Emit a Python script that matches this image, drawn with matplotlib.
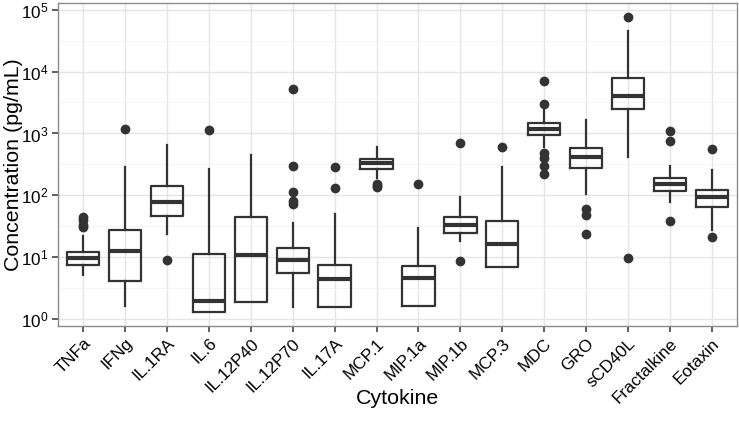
import matplotlib
matplotlib.use("Agg")
import matplotlib.pyplot as plt
import numpy as np

plt.rcParams['font.family'] = ['Liberation Sans', 'DejaVu Sans']
plt.rcParams['mathtext.fontset'] = 'custom'
plt.rcParams['mathtext.rm'] = 'Liberation Sans'
plt.rcParams['mathtext.it'] = 'Liberation Sans'

categories = ["TNFa", "IFNg", "IL.1RA", "IL.6", "IL.12P40", "IL.12P70", "IL.17A",
              "MCP.1", "MIP.1a", "MIP.1b", "MCP.3", "MDC", "GRO", "sCD40L",
              "Fractalkine", "Eotaxin"]
whisker_low = [5.2, 1.64, 23.5, 1.3, 1.92, 1.6, 1.6, 190, 1.66, 18.5, 7.05, 608, 104, 420, 79, 27.6]
q1          = [7.5, 4.2, 46, 1.3, 1.92, 5.5, 1.6, 263, 1.66, 24.4, 7.05, 937, 272, 2440, 119, 65.5]
median      = [9.9, 12.6, 79, 2.0, 10.9, 9.0, 4.4, 328, 4.6, 33, 16.2, 1200, 420, 4000, 152, 95]
q3          = [12.3, 27.6, 141, 11.3, 44.6, 14.3, 7.5, 385, 7.3, 44, 39, 1450, 573, 7980, 188, 122]
whisker_high = [22, 285, 647, 263, 457, 36, 50, 594, 30, 95, 290, 2440, 1640, 44600, 300, 256]
outliers = [
    [44, 40, 33, 31],
    [1200],
    [8.9],
    [1130],
    [],
    [5190, 300, 112, 82, 72],
    [290, 133],
    [155, 140, 135],
    [154],
    [705, 8.8],
    [600],
    [6960, 2960, 475, 395, 300, 221],
    [60, 48, 23.6],
    [74500, 9.6],
    [1090, 752, 39],
    [552, 21.5],
]

W, H = 739, 430
fig = plt.figure(figsize=(W / 100, H / 100), dpi=100)
ax = fig.add_axes([58 / W, 1 - 326 / H, (737 - 58) / W, (326 - 3) / H])

stats = []
for i, c in enumerate(categories):
    stats.append(dict(label=c, whislo=whisker_low[i], q1=q1[i], med=median[i],
                      q3=q3[i], whishi=whisker_high[i], fliers=outliers[i]))

dark = '#333333'
positions = np.arange(len(categories))
ax.bxp(stats, positions=positions, widths=0.77, showcaps=False,
       boxprops=dict(color=dark, linewidth=1.6),
       whiskerprops=dict(color=dark, linewidth=1.6),
       medianprops=dict(color=dark, linewidth=3.0, solid_capstyle='butt'),
       flierprops=dict(marker='o', markerfacecolor=dark, markeredgecolor=dark,
                       markersize=6, linestyle='none'),
       zorder=3)

ax.set_yscale('log')
ax.set_ylim(10 ** -0.108, 10 ** 5.106)
ax.set_xlim(-0.6, len(categories) - 1 + 0.6)

yt = [10 ** k for k in range(6)]
ax.set_yticks(yt)
ax.set_yticklabels([r'$10^{%d}$' % k for k in range(6)])
ax.yaxis.set_minor_locator(matplotlib.ticker.FixedLocator([10 ** (k + 0.5) for k in range(-1, 6)]))
ax.yaxis.set_minor_formatter(matplotlib.ticker.NullFormatter())
ax.tick_params(axis='y', which='minor', length=0)

ax.set_xticks(positions)
ax.set_xticklabels(categories, rotation=45, ha='right', va='top', rotation_mode='anchor')

ax.grid(True, which='major', color='#e5e5e5', linewidth=1.0, zorder=0)
ax.grid(True, which='minor', axis='y', color='#f2f2f2', linewidth=0.6, zorder=0)
ax.set_axisbelow(True)

for s in ax.spines.values():
    s.set_color('#8c8c8c')
    s.set_linewidth(1.0)

ax.tick_params(axis='both', which='major', length=4, width=1.1, color=dark,
               labelsize=12.3, labelcolor='black', pad=3)

ax.set_xlabel('Cytokine', fontsize=15.4)
ax.set_ylabel('Concentration (pg/mL)', fontsize=15.4)
ax.xaxis.set_label_coords(0.5, -(389 - 326) / 323)
ax.yaxis.set_label_coords(-(58 - 23) / 679, 0.5)

fig.savefig('out.png', dpi=100)
